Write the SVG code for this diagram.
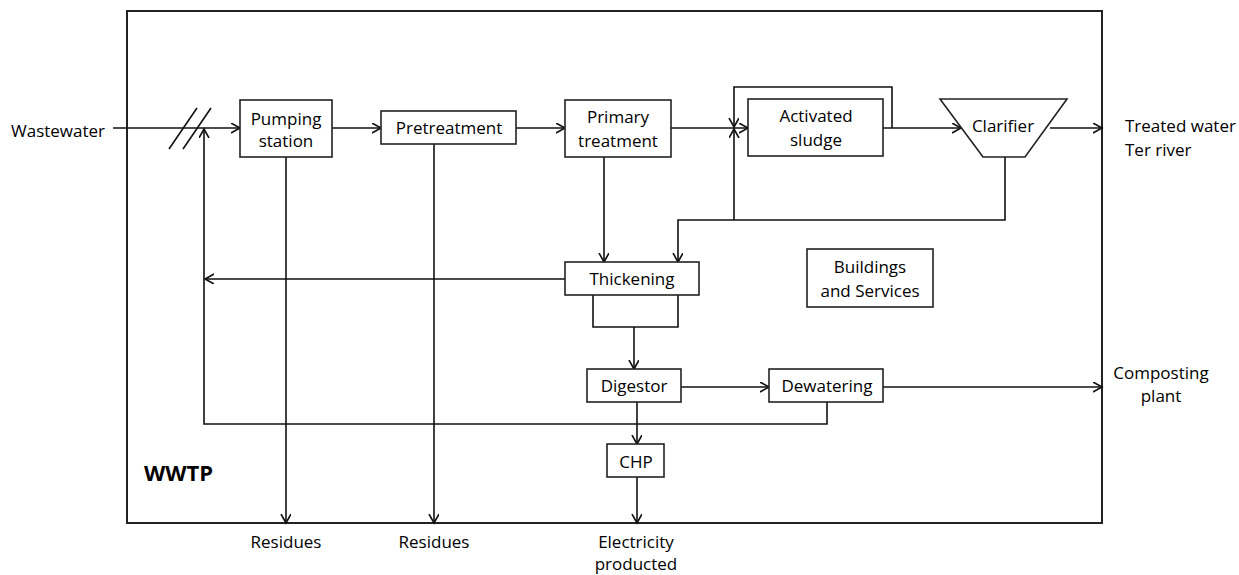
<svg xmlns="http://www.w3.org/2000/svg" width="1239" height="575" viewBox="0 0 1239 575">
  <style>
    text { font-family: "Open Sans", "Liberation Sans", sans-serif; font-size: 17px; fill: #000; }
    .c { text-anchor: middle; }
    .box { fill: #fff; stroke: #222; stroke-width: 1.6; }
    .frame { fill: none; stroke: #222; stroke-width: 2; }
    .flow { fill: none; stroke: #111; stroke-width: 1.6; }
    .arr { marker-end: url(#head); }
    .title { font-weight: bold; font-size: 22px; }
  </style>
  <defs>
    <marker id="head" markerUnits="userSpaceOnUse" markerWidth="12" markerHeight="12" refX="9" refY="5" orient="auto">
      <path d="M0,0 L9,5 L0,10" fill="none" stroke="#111" stroke-width="1.6"/>
    </marker>
  </defs>
  <rect width="1239" height="575" fill="#fff"/>

  <!-- plant boundary -->
  <g id="wwtp">
    <rect class="frame" x="127" y="11" width="975" height="512"/>
    <text class="title" x="144" y="481">WWTP</text>
  </g>

  <!-- connectors -->
  <g id="connectors">
    <path class="flow arr" d="M113,128 H240"/>
    <path class="flow" d="M169,149 L197,108 M183,149 L211,108"/>
    <path class="flow arr" d="M332,128 H381"/>
    <path class="flow arr" d="M516,128 H565"/>
    <path class="flow arr" d="M671,128 H748"/>
    <path class="flow arr" d="M892,128 V87 H734 V127"/>
    <path class="flow arr" d="M883,128 H961"/>
    <path class="flow arr" d="M1050,128 H1102"/>
    <path class="flow arr" d="M1005,157 V220 H678 V262"/>
    <path class="flow arr" d="M734,220 V129"/>
    <path class="flow arr" d="M604,157 V262"/>
    <path class="flow arr" d="M565,279 H205"/>
    <path class="flow" d="M593,295 V327 H678 V295"/>
    <path class="flow arr" d="M634,327 V369"/>
    <path class="flow arr" d="M681,387 H769"/>
    <path class="flow arr" d="M883,387 H1102"/>
    <path class="flow arr" d="M827,402 V424 H204 V129"/>
    <path class="flow arr" d="M637,402 V444"/>
    <path class="flow arr" d="M637,477 V523"/>
    <path class="flow arr" d="M286,157 V523"/>
    <path class="flow arr" d="M434,144 V523"/>
  </g>

  <g id="pumping-station">
    <rect class="box" x="240" y="100" width="92" height="57"/>
    <text class="c" x="286" y="125">Pumping</text>
    <text class="c" x="286" y="147">station</text>
  </g>
  <g id="pretreatment">
    <rect class="box" x="381" y="111" width="135" height="33"/>
    <text class="c" x="449" y="134">Pretreatment</text>
  </g>
  <g id="primary-treatment">
    <rect class="box" x="565" y="100" width="106" height="57"/>
    <text class="c" x="618" y="123">Primary</text>
    <text class="c" x="618" y="147">treatment</text>
  </g>
  <g id="activated-sludge">
    <rect class="box" x="748" y="99" width="135" height="57"/>
    <text class="c" x="816" y="122">Activated</text>
    <text class="c" x="816" y="146">sludge</text>
  </g>
  <g id="clarifier">
    <path class="box" d="M940,99 H1067 L1025,157 H983 Z"/>
    <text class="c" x="1003" y="132">Clarifier</text>
  </g>
  <g id="thickening">
    <rect class="box" x="565" y="262" width="134" height="33"/>
    <text class="c" x="632" y="285">Thickening</text>
  </g>
  <g id="buildings">
    <rect class="box" x="807" y="249" width="126" height="58"/>
    <text class="c" x="870" y="273">Buildings</text>
    <text class="c" x="870" y="297">and Services</text>
  </g>
  <g id="digestor">
    <rect class="box" x="587" y="369" width="94" height="33"/>
    <text class="c" x="634" y="392">Digestor</text>
  </g>
  <g id="dewatering">
    <rect class="box" x="769" y="369" width="114" height="33"/>
    <text class="c" x="827" y="392">Dewatering</text>
  </g>
  <g id="chp">
    <rect class="box" x="607" y="444" width="57" height="33"/>
    <text class="c" x="636" y="468">CHP</text>
  </g>

  <!-- inputs and outputs -->
  <g id="wastewater"><text x="11" y="137">Wastewater</text></g>
  <g id="treated-water">
    <text x="1125" y="132">Treated water</text>
    <text x="1125" y="156">Ter river</text>
  </g>
  <g id="composting">
    <text class="c" x="1161" y="379">Composting</text>
    <text class="c" x="1161" y="402">plant</text>
  </g>
  <g id="residues-1"><text class="c" x="286" y="548">Residues</text></g>
  <g id="residues-2"><text class="c" x="434" y="548">Residues</text></g>
  <g id="electricity">
    <text class="c" x="636" y="548">Electricity</text>
    <text class="c" x="636" y="570">producted</text>
  </g>
</svg>
